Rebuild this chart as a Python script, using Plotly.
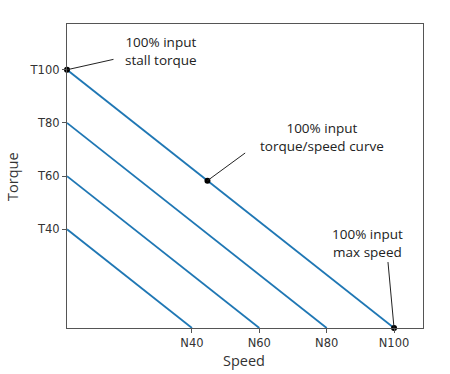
import plotly.graph_objects as go

# Data
levels = [40, 60, 80, 100]                 # % input levels
speed_ticks = ["N40", "N60", "N80", "N100"]
torque_ticks = ["T40", "T60", "T80", "T100"]
origin = 2.9                                # axis origin (data units)
x_max = 108.6
y_max = 117.2

# highlighted point on the 100% curve
mid_speed = 44.6

fig = go.Figure()
for L in levels:
    fig.add_trace(go.Scatter(
        x=[origin, L], y=[L, origin], mode="lines",
        line=dict(color="#1f77b4", width=1.8), showlegend=False, hoverinfo="skip"))

top = levels[-1]
pts_x = [origin, mid_speed, top]
pts_y = [top, top + origin - mid_speed, origin]
fig.add_trace(go.Scatter(x=pts_x, y=pts_y, mode="markers",
                         marker=dict(color="black", size=6), showlegend=False,
                         cliponaxis=False, hoverinfo="skip"))

# annotations: (text, text_x, text_y, leader_x, leader_y, point index)
notes = [
    ("100% input<br>stall torque", 30.9, 106.9, 16.7, 103.9, 0),
    ("100% input<br>torque/speed curve", 78.6, 74.8, 55.8, 68.7, 1),
    ("100% input<br>max speed", 92.0, 34.8, 98.2, 27.7, 2),
]
for txt, tx, ty, lx, ly, i in notes:
    fig.add_annotation(x=tx, y=ty, text=txt, showarrow=False, xref="x", yref="y",
                       font=dict(family="Open Sans", size=13.5, color="#222"),
                       align="center")
    fig.add_shape(type="line", x0=pts_x[i], y0=pts_y[i], x1=lx, y1=ly,
                  xref="x", yref="y", line=dict(color="#222", width=1))

axis_common = dict(showgrid=False, zeroline=False, showline=True, mirror=True,
                   linecolor="#555", linewidth=1.3, ticks="outside", ticklen=4,
                   tickcolor="#555", automargin=False,
                   tickfont=dict(family="DejaVu Sans", size=11.5, color="#333"))
fig.update_xaxes(range=[origin, x_max], tickvals=levels, ticktext=speed_ticks,
                 **axis_common)
fig.update_yaxes(range=[origin, y_max], tickvals=levels, ticktext=torque_ticks,
                 **axis_common)

# axis titles
fig.add_annotation(text="Speed", xref="paper", yref="paper", x=0.497, y=0,
                   yanchor="middle", yshift=-32, showarrow=False,
                   font=dict(family="Open Sans", size=14.5, color="#333"))
fig.add_annotation(text="Torque", xref="paper", yref="paper", x=0, y=0.497,
                   xanchor="center", xshift=-54, textangle=-90, showarrow=False,
                   font=dict(family="Open Sans", size=14.5, color="#333"))

fig.update_layout(width=450, height=374, margin=dict(l=67, r=27, t=24, b=46),
                  plot_bgcolor="white", paper_bgcolor="white")
fig.write_html("out.html", config={"displayModeBar": False},
               post_script="document.body.style.margin='0';")
